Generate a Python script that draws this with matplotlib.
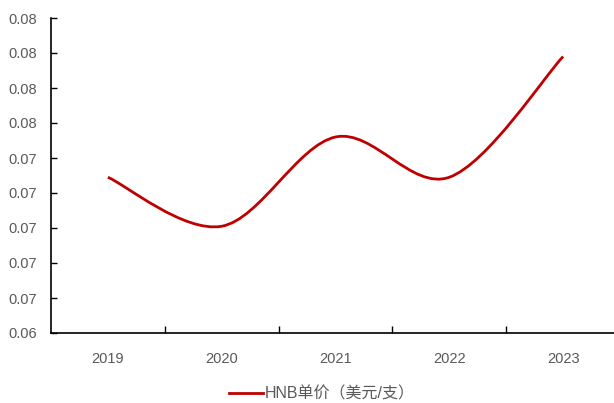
import numpy as np
import matplotlib.pyplot as plt
from matplotlib.path import Path
from matplotlib.patches import PathPatch
from matplotlib.lines import Line2D
from matplotlib.ticker import FuncFormatter, MultipleLocator

plt.rcParams['font.family'] = ['Liberation Sans', 'Noto Sans CJK SC', 'DejaVu Sans']

years = ['2019', '2020', '2021', '2022', '2023']
unit_price = [0.0729, 0.0701, 0.0752, 0.0729, 0.0798]
series_name = 'HNB单价（美元/支）'

RED = '#C00000'
GREY = '#595959'

fig = plt.figure(figsize=(6.14, 4.03), dpi=100)
ax = fig.add_axes([51 / 614, 1 - 333 / 403, 569 / 614, 315 / 403])

# smoothed line like Excel: cubic bezier segments, catmull-rom style tangents
x = np.arange(len(years), dtype=float)
y = np.array(unit_price)
pts = np.column_stack([x, y])
verts = [pts[0]]
codes = [Path.MOVETO]
for i in range(len(pts) - 1):
    p0 = pts[i - 1] if i > 0 else pts[i]
    p1, p2 = pts[i], pts[i + 1]
    p3 = pts[i + 2] if i + 2 < len(pts) else pts[i + 1]
    verts += [p1 + (p2 - p0) / 6, p2 - (p3 - p1) / 6, p2]
    codes += [Path.CURVE4] * 3
ax.add_patch(PathPatch(Path(verts, codes), facecolor='none', edgecolor=RED,
                       lw=2, capstyle='butt', joinstyle='round'))

ax.set_xlim(-0.5, len(years) - 0.5)
ax.set_ylim(0.064, 0.082)
ax.yaxis.set_major_locator(MultipleLocator(0.002))
ax.yaxis.set_major_formatter(FuncFormatter(lambda v, p: f'{v:.2f}'))

ax.set_xticks(x)
ax.set_xticklabels(years)
ax.set_xticks(np.arange(0.5, len(years) - 1, 1.0), minor=True)
ax.tick_params(axis='x', which='major', length=0, pad=14, labelsize=10.5, labelcolor=GREY)
ax.tick_params(axis='x', which='minor', direction='in', length=5, width=1, color='black')
ax.tick_params(axis='y', direction='in', length=4, width=1, pad=10, labelsize=10.5, labelcolor=GREY)

for s in ['top', 'right']:
    ax.spines[s].set_visible(False)
for s in ['left', 'bottom']:
    ax.spines[s].set_linewidth(1.2)
    ax.spines[s].set_color('black')

handle = Line2D([], [], color=RED, lw=2)
fig.legend([handle], [series_name], loc='center', bbox_to_anchor=(322 / 614, 1 - 394 / 403),
           frameon=False, fontsize=11.5, labelcolor=GREY, handlelength=2.1, handletextpad=0.15)

fig.savefig('out.png', dpi=100)
